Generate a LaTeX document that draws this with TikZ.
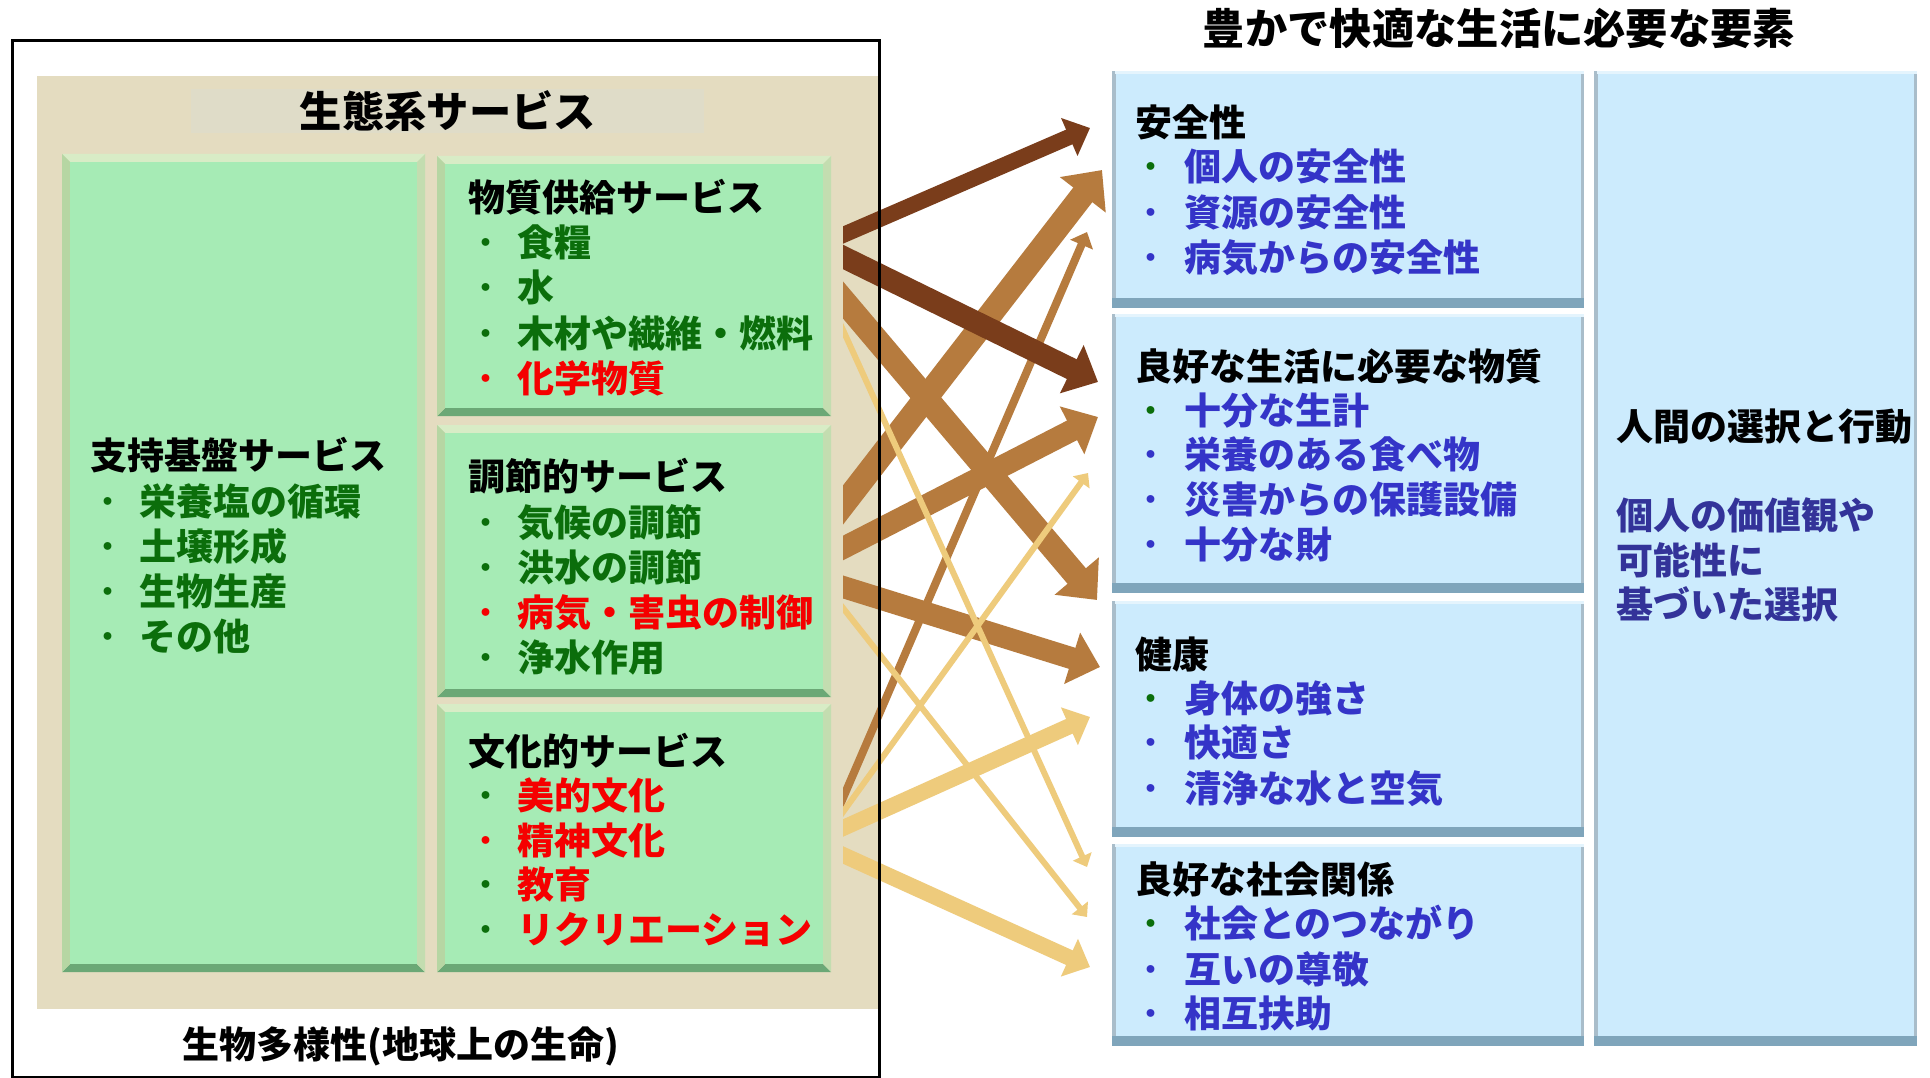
\documentclass[tikz,border=0pt]{standalone}
\usepackage{fontspec}
\setmainfont{Noto Sans CJK JP}
\usetikzlibrary{arrows.meta}
\definecolor{beige}{HTML}{E4DCC0}
\definecolor{band}{HTML}{DFDCC8}
\definecolor{gfill}{HTML}{A6EBB5}
\definecolor{gtop}{HTML}{D8ECC6}
\definecolor{gleft}{HTML}{B6D6A3}
\definecolor{gbot}{HTML}{6BA876}
\definecolor{gright}{HTML}{C3DDB0}
\definecolor{bfill}{HTML}{CCEBFD}
\definecolor{btop}{HTML}{E4F4FD}
\definecolor{bleft}{HTML}{A9BDCA}
\definecolor{bbot}{HTML}{7FA5BB}
\definecolor{tgreen}{HTML}{0B6E0B}
\definecolor{tred}{HTML}{F50000}
\definecolor{tblue}{HTML}{3434C8}
\definecolor{tnavy}{HTML}{333399}
\definecolor{adark}{HTML}{7A3D1B}
\definecolor{amid}{HTML}{B67B3E}
\definecolor{alight}{HTML}{EECB7C}
\tikzset{
  ttl/.style={font=\fontsize{42.3}{42}\selectfont\bfseries, anchor=base, inner sep=0},
  hd/.style={font=\fontsize{37}{37}\selectfont\bfseries, anchor=base west, inner sep=0},
  bul/.style={font=\fontsize{37}{37}\selectfont, anchor=base, inner sep=0},
  flow/.style={line width=#1, shorten <=-20pt, -{Triangle[width=8pt 2, length=5pt 1.1]}},
}
% green bevelled box: name, x1, y1, x2, y2
\newcommand{\gbox}[5]{%
  \fill[gtop] (#2,#3) -- (#4,#3) -- (#4-8,#3+8) -- (#2+8,#3+8) -- cycle;
  \fill[gbot] (#2,#5) -- (#4,#5) -- (#4-8,#5-8) -- (#2+8,#5-8) -- cycle;
  \fill[gleft] (#2,#3) -- (#2+8,#3+8) -- (#2+8,#5-8) -- (#2,#5) -- cycle;
  \fill[gright] (#4,#3) -- (#4-8,#3+8) -- (#4-8,#5-8) -- (#4,#5) -- cycle;
  \node[inner sep=0, outer sep=0, fill=gfill, minimum width=#4-#2-16, minimum height=#5-#3-16, anchor=north west] (#1) at (#2+8,#3+8) {};
}
% blue bevelled box
\newcommand{\bbox}[5]{%
  \fill[bleft] (#2,#3) rectangle (#4,#5);
  \fill[btop] (#2+3,#3) rectangle (#4,#3+3);
  \fill[bbot] (#2,#5-10) rectangle (#4,#5);
  \node[inner sep=0, outer sep=0, fill=bfill, minimum width=#4-#2-7, minimum height=#5-#3-13, anchor=north west] (#1) at (#2+4,#3+3) {};
}
% item: name, xbullet, xtext, ybaseline, bullet colour, text colour, text
\newcommand{\itm}[7]{%
  \node[bul, text=#5] (#1b) at (#2,#4) {・};
  \node[hd, text=#6] (#1) at (#3,#4) {#7};
}
\begin{document}
\begin{tikzpicture}[x=1pt,y=-1pt]
\useasboundingbox (0,0) rectangle (1930,1078);
\fill[white] (0,0) rectangle (1930,1078);

% left panel
\fill[beige] (37,76) rectangle (878,1009);
\node[fill=band, minimum width=513, minimum height=44, inner sep=0] (band) at (447.5,111) {};
\node[ttl] (eco) at (448,128) {生態系サービス};

\gbox{sup}{62}{154}{425}{972}
\gbox{prov}{437}{156}{831}{416}
\gbox{reg}{437}{425}{831}{697}
\gbox{cul}{437}{704}{831}{972}

\node[hd] (supt) at (90,469) {支持基盤サービス};
\itm{s1}{108}{139}{515}{tgreen}{tgreen}{栄養塩の循環}
\itm{s2}{108}{139}{560}{tgreen}{tgreen}{土壌形成}
\itm{s3}{108}{139}{605}{tgreen}{tgreen}{生物生産}
\itm{s4}{108}{139}{650}{tgreen}{tgreen}{その他}

\node[hd] (provt) at (468,212) {物質供給サービス};
\itm{p1}{486}{517}{256}{tgreen}{tgreen}{食糧}
\itm{p2}{486}{517}{301}{tgreen}{tgreen}{水}
\itm{p3}{486}{517}{347}{tgreen}{tgreen}{木材や繊維・燃料}
\itm{p4}{486}{517}{392}{tred}{tred}{化学物質}

\node[hd] (regt) at (468,490) {調節的サービス};
\itm{r1}{486}{517}{536}{tgreen}{tgreen}{気候の調節}
\itm{r2}{486}{517}{581}{tgreen}{tgreen}{洪水の調節}
\itm{r3}{486}{517}{626}{tred}{tred}{病気・害虫の制御}
\itm{r4}{486}{517}{671}{tgreen}{tgreen}{浄水作用}

\node[hd] (cult) at (468,765) {文化的サービス};
\itm{c1}{486}{517}{809}{tgreen}{tred}{美的文化}
\itm{c2}{486}{517}{854}{tred}{tred}{精神文化}
\itm{c3}{486}{517}{898}{tgreen}{tred}{教育}
\itm{c4}{486}{517}{943}{tgreen}{tred}{リクリエーション}

\node[hd] (bio) at (182,1058) {生物多様性(地球上の生命)};

% right panel
\node[ttl] (wb) at (1499,45) {豊かで快適な生活に必要な要素};
\bbox{safe}{1112}{71}{1584}{308}
\bbox{mat}{1112}{314}{1584}{593}
\bbox{hea}{1112}{601}{1584}{837}
\bbox{soc}{1112}{844}{1584}{1046}
\bbox{cho}{1594}{71}{1917}{1046}

\node[hd] (safet) at (1135,137) {安全性};
\itm{f1}{1151}{1184}{181}{tgreen}{tblue}{個人の安全性}
\itm{f2}{1151}{1184}{226}{tblue}{tblue}{資源の安全性}
\itm{f3}{1151}{1184}{271}{tblue}{tblue}{病気からの安全性}

\node[hd] (matt) at (1135,380) {良好な生活に必要な物質};
\itm{m1}{1151}{1184}{424}{tgreen}{tblue}{十分な生計}
\itm{m2}{1151}{1184}{468}{tblue}{tblue}{栄養のある食べ物}
\itm{m3}{1151}{1184}{513}{tblue}{tblue}{災害からの保護設備}
\itm{m4}{1151}{1184}{558}{tblue}{tblue}{十分な財}

\node[hd] (heat) at (1135,668) {健康};
\itm{h1}{1151}{1184}{712}{tgreen}{tblue}{身体の強さ}
\itm{h2}{1151}{1184}{756}{tblue}{tblue}{快適さ}
\itm{h3}{1151}{1184}{802}{tblue}{tblue}{清浄な水と空気}

\node[hd] (soct) at (1135,893) {良好な社会関係};
\itm{o1}{1151}{1184}{937}{tgreen}{tblue}{社会とのつながり}
\itm{o2}{1151}{1184}{983}{tblue}{tblue}{互いの尊敬}
\itm{o3}{1151}{1184}{1027}{tblue}{tblue}{相互扶助}

\node[hd] (chot) at (1616,440) {人間の選択と行動};
\node[hd, text=tnavy] (ch1) at (1616,529) {個人の価値観や};
\node[hd, text=tnavy] (ch2) at (1616,574) {可能性に};
\node[hd, text=tnavy] (ch3) at (1616,618) {基づいた選択};

% arrow anchors
\coordinate (q1) at (843,235);  \coordinate (e1) at (1090,128);
\coordinate (q2) at (843,257);  \coordinate (e2) at (1098,382);
\coordinate (q3) at (843,300);  \coordinate (e3) at (1097,600);
\coordinate (q4) at (843,330);  \coordinate (e4) at (1087,867);
\coordinate (q5) at (843,505);  \coordinate (e5) at (1102,170);
\coordinate (q6) at (843,548);  \coordinate (e6) at (1098,417);
\coordinate (q7) at (843,587);  \coordinate (e7) at (1100,667);
\coordinate (q8) at (843,608);  \coordinate (e8) at (1087,917);
\coordinate (q9) at (843,798);  \coordinate (e9) at (1087,232);
\coordinate (q10) at (843,812); \coordinate (e10) at (1088,473);
\coordinate (q11) at (843,828); \coordinate (e11) at (1090,717);
\coordinate (q12) at (843,855); \coordinate (e12) at (1090,967);

\begin{scope}
\clip (843,0) rectangle (1110,1078);
\draw[flow=24pt, amid] (q3) -- (e3);
\draw[flow=24pt, amid] (q5) -- (e5);
\draw[flow=22pt, amid] (q6) -- (e6);
\draw[flow=22pt, amid] (q7) -- (e7);
\draw[flow=8pt, amid] (q9) -- (e9);
\draw[flow=6pt, alight] (q4) -- (e4);
\draw[flow=6pt, alight] (q8) -- (e8);
\draw[flow=6pt, alight] (q10) -- (e10);
\draw[flow=16pt, alight] (q11) -- (e11);
\draw[flow=16pt, alight] (q12) -- (e12);
\draw[flow=16pt, adark] (q1) -- (e1);
\draw[flow=22pt, adark] (q2) -- (e2);
\end{scope}

% outer frame
\draw[line width=3pt] (12,41) rectangle (879,1077);
\end{tikzpicture}
\end{document}
